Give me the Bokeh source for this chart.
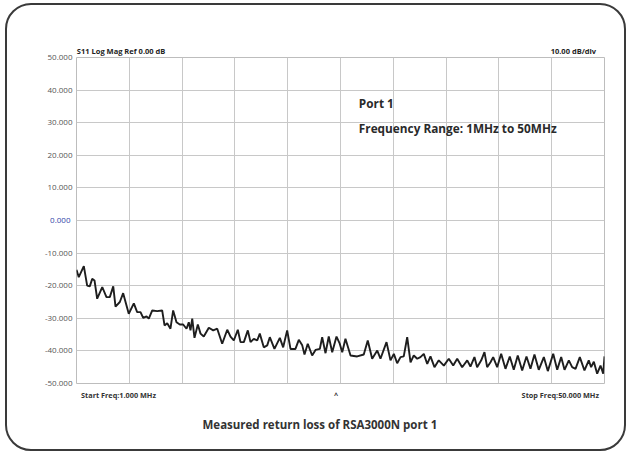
from bokeh.plotting import figure
from bokeh.models import FixedTicker, Range1d, Label, LinearAxis, Title
from bokeh.layouts import column
from bokeh.embed import file_html
from bokeh.resources import INLINE

# ---- data ----
freq_mhz = [1.00,1.21,1.68,1.99,2.23,2.46,2.67,2.92,3.39,3.78,4.09,4.41,4.62,5.02,5.33,5.85,6.32,6.63,6.94,7.19,
            7.50,7.71,8.03,8.49,8.95,9.17,9.42,9.72,9.97,10.28,10.59,10.90,11.21,11.42,11.58,11.74,11.95,12.26,12.51,12.81,
            13.28,13.69,14.06,14.52,14.99,15.29,15.60,15.97,16.22,16.53,16.90,17.15,17.45,17.77,18.01,18.38,18.70,18.94,19.37,19.87,
            20.18,20.55,20.86,21.32,21.63,21.95,22.16,22.46,22.87,23.18,23.58,
            23.80,24.11,24.41,24.73,25.13,25.43,25.66,25.96,26.43,27.05,27.66,28.03,28.44,28.91,29.21,29.77,30.14,30.45,30.76,31.07,
            31.37,31.69,32.00,32.30,32.62,32.92,33.23,33.55,33.85,34.22,34.62,35.09,35.55,35.96,36.33,36.79,37.26,37.56,37.93,38.18,
            38.56,38.86,39.11,39.42,39.67,40.04,40.41,40.81,41.21,41.58,41.95,42.36,42.76,43.13,43.50,43.90,44.37,44.74,45.24,45.61,
            45.98,46.29,46.69,47.00,47.31,47.71,48.14,48.54,48.76,49.01,49.32,49.63,49.88,50.00]
s11_db = [-15.1,-17.4,-14.0,-20.0,-20.2,-17.9,-18.4,-24.0,-20.4,-23.5,-23.5,-20.2,-26.4,-25.0,-22.3,-28.6,-25.4,-28.1,-28.1,-29.9,
          -29.4,-30.1,-27.6,-27.8,-27.6,-32.2,-31.5,-33.2,-27.6,-31.2,-31.9,-31.9,-33.2,-31.2,-33.7,-30.1,-36.0,-31.9,-34.7,-35.6,
          -32.9,-33.7,-33.2,-37.8,-33.5,-35.6,-36.8,-33.5,-37.3,-37.3,-33.7,-37.3,-36.3,-36.8,-34.7,-38.9,-38.3,-35.8,-39.4,-36.0,
          -38.9,-33.7,-39.4,-39.4,-36.6,-38.3,-41.1,-37.8,-41.4,-39.7,-39.4,
          -35.8,-40.7,-35.6,-40.4,-35.6,-37.8,-40.4,-36.3,-41.4,-41.7,-41.1,-36.8,-42.4,-39.9,-42.4,-37.3,-42.9,-40.9,-43.8,-41.9,
          -41.7,-35.8,-43.5,-41.4,-42.4,-41.9,-40.9,-44.0,-41.7,-45.0,-42.9,-44.5,-42.4,-44.5,-42.4,-45.0,-42.9,-44.8,-41.9,-45.0,
          -42.9,-40.4,-45.0,-43.5,-41.9,-45.0,-40.9,-45.5,-41.7,-45.8,-41.4,-46.0,-41.7,-45.5,-41.1,-45.8,-41.9,-46.2,-40.9,-45.8,
          -41.9,-45.8,-42.9,-45.0,-45.5,-41.9,-46.0,-42.9,-45.0,-43.3,-47.0,-44.5,-47.0,-41.7]

y_ticks = [50, 40, 30, 20, 10, -10, -20, -30, -40, -50]
y_tick_labels = ["50.000", "40.000", "30.000", "20.000", "10.000",
                 "-10.000", "-20.000", "-30.000", "-40.000", "-50.000"]
ref_tick = [0]
ref_tick_label = ["0.000"]
y_grid = [50, 40, 30, 20, 10, 0, -10, -20, -30, -40, -50]
x_grid = [1.0, 5.9, 10.8, 15.7, 20.6, 25.5, 30.4, 35.3, 40.2, 45.1, 50.0]

start_freq, stop_freq = 1.0, 50.0
y_min, y_max = -50, 50

header_texts = ["S11  Log Mag    Ref 0.00 dB", "10.00  dB/div"]
header_pos = [5.5, 47.2]
footer_texts = ["Start Freq:1.000 MHz", "^", "Stop Freq:50.000 MHz"]
footer_pos = [4.9, 25.1, 45.9]
note_lines = ["Port 1", "Frequency Range: 1MHz to 50MHz"]
note_y = [35.9, 28.5]
note_x = 27.2
caption = "Measured return loss of RSA3000N port 1"

FONT = "Open Sans"

p = figure(width=617, height=444, output_backend="svg", toolbar_location=None,
           x_range=Range1d(start_freq, stop_freq), y_range=Range1d(y_min, y_max),
           min_border_left=69, min_border_right=20, min_border_top=52, min_border_bottom=66)

p.background_fill_color = "white"
p.border_fill_color = None
p.outline_line_color = "#bdbdbd"

p.xgrid.ticker = FixedTicker(ticks=x_grid)
p.ygrid.ticker = FixedTicker(ticks=y_grid)
p.xgrid.grid_line_color = "#c8c8c8"
p.ygrid.grid_line_color = "#c8c8c8"

def style_axis(axis, ticks, texts, standoff, size, bold, color):
    axis.ticker = FixedTicker(ticks=ticks)
    axis.major_label_overrides = {t: s for t, s in zip(ticks, texts)}
    axis.axis_line_color = None
    axis.major_tick_line_color = None
    axis.minor_tick_line_color = None
    axis.major_tick_out = 0
    axis.major_tick_in = 0
    axis.major_label_standoff = standoff
    axis.major_label_text_font = FONT
    axis.major_label_text_font_size = size
    axis.major_label_text_font_style = "bold" if bold else "normal"
    axis.major_label_text_color = color

# y axis (gray labels) and the blue reference-level label
style_axis(p.left[0], y_ticks, y_tick_labels, 4, "8px", False, "#555555")
ref_axis = LinearAxis()
style_axis(ref_axis, ref_tick, ref_tick_label, -29, "8px", False, "#2f44a8")
p.add_layout(ref_axis, "left")

# footer (start / stop frequency) on the default bottom axis
style_axis(p.below[0], footer_pos, footer_texts, 6, "7.3px", True, "#333333")

# header (above the grid)
top_axis = LinearAxis()
style_axis(top_axis, header_pos, header_texts, 2, "7.5px", True, "#222222")
p.add_layout(top_axis, "above")

p.line(freq_mhz, s11_db, line_color="#1e1e1e", line_width=1.9)

for t, yy in zip(note_lines, note_y):
    p.add_layout(Label(x=note_x, y=yy, text=t, text_baseline="middle", text_font=FONT,
                       text_font_size="11.8px", text_font_style="bold", text_color="#2a2a2a"))

cap = Title(text=caption, align="left", offset=126, standoff=24, text_font=FONT,
            text_font_size="11.5px", text_font_style="bold", text_color="#333333")
p.add_layout(cap, "below")

layout = column(p, styles={"border": "2px solid #3a3a3a", "border-radius": "26px",
                           "background-color": "white", "margin": "3px 0 0 5px"})

open("out.html", "w").write(file_html(layout, INLINE))
